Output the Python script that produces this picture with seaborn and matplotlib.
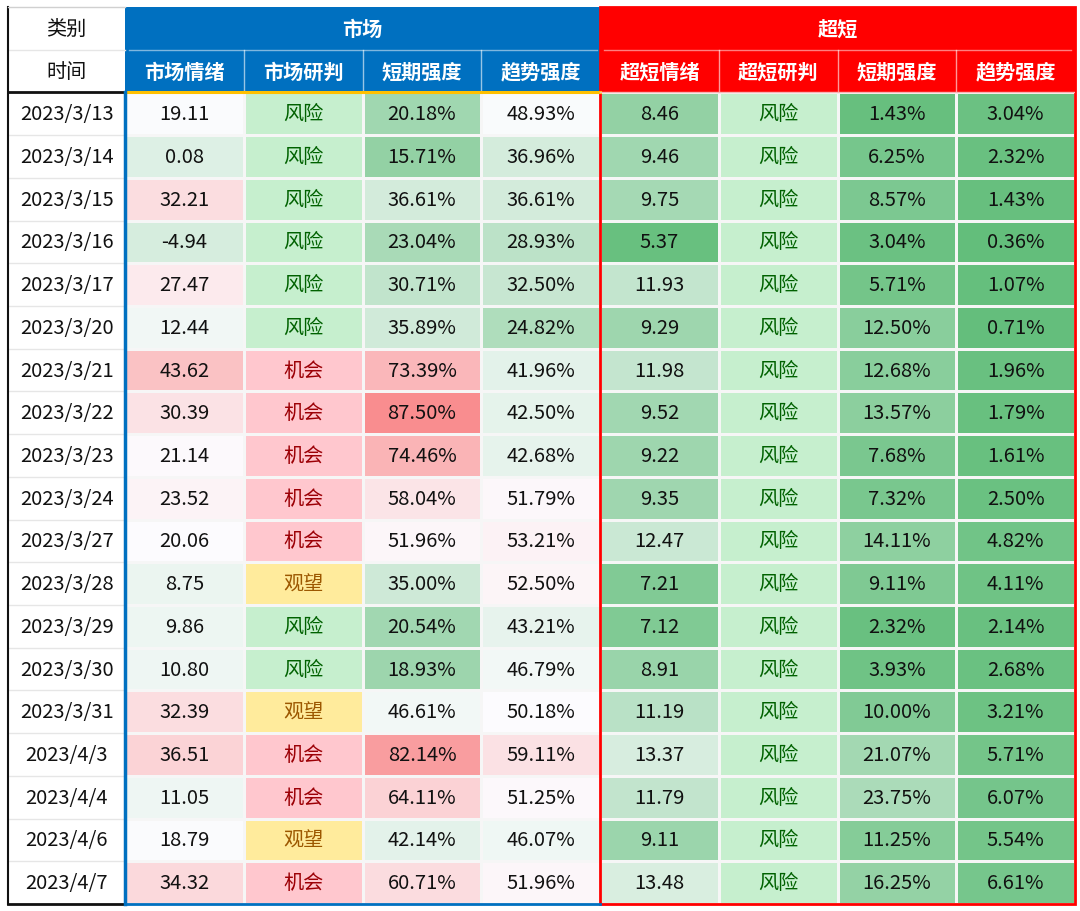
import numpy as np
import pandas as pd
import matplotlib
matplotlib.use('Agg')
import matplotlib.pyplot as plt
from matplotlib.colors import LinearSegmentedColormap, ListedColormap
from matplotlib.patches import Rectangle
import seaborn as sns

dates = ['2023/3/13', '2023/3/14', '2023/3/15', '2023/3/16', '2023/3/17', '2023/3/20',
         '2023/3/21', '2023/3/22', '2023/3/23', '2023/3/24', '2023/3/27', '2023/3/28',
         '2023/3/29', '2023/3/30', '2023/3/31', '2023/4/3', '2023/4/4', '2023/4/6', '2023/4/7']
market_mood = [19.11, 0.08, 32.21, -4.94, 27.47, 12.44, 43.62, 30.39, 21.14, 23.52,
               20.06, 8.75, 9.86, 10.80, 32.39, 36.51, 11.05, 18.79, 34.32]
market_call = ['风险'] * 6 + ['机会'] * 5 + ['观望', '风险', '风险', '观望', '机会', '机会', '观望', '机会']
market_short = [20.18, 15.71, 36.61, 23.04, 30.71, 35.89, 73.39, 87.50, 74.46, 58.04,
                51.96, 35.00, 20.54, 18.93, 46.61, 82.14, 64.11, 42.14, 60.71]
market_trend = [48.93, 36.96, 36.61, 28.93, 32.50, 24.82, 41.96, 42.50, 42.68, 51.79,
                53.21, 52.50, 43.21, 46.79, 50.18, 59.11, 51.25, 46.07, 51.96]
ultra_mood = [8.46, 9.46, 9.75, 5.37, 11.93, 9.29, 11.98, 9.52, 9.22, 9.35,
              12.47, 7.21, 7.12, 8.91, 11.19, 13.37, 11.79, 9.11, 13.48]
ultra_call = ['风险'] * 19
ultra_short = [1.43, 6.25, 8.57, 3.04, 5.71, 12.50, 12.68, 13.57, 7.68, 7.32,
               14.11, 9.11, 2.32, 3.93, 10.00, 21.07, 23.75, 11.25, 16.25]
ultra_trend = [3.04, 2.32, 1.43, 0.36, 1.07, 0.71, 1.96, 1.79, 1.61, 2.50,
               4.82, 4.11, 2.14, 2.68, 3.21, 5.71, 6.07, 5.54, 6.61]

groups = ['市场', '超短']
columns = ['市场情绪', '市场研判', '短期强度', '趋势强度', '超短情绪', '超短研判', '短期强度', '趋势强度']

plt.rcParams['font.family'] = ['Noto Sans CJK SC', 'DejaVu Sans']
FS = 14.5

n = len(dates)
numeric = {0: market_mood, 2: market_short, 3: market_trend,
           4: ultra_mood, 6: ultra_short, 7: ultra_trend}
categorical = {1: market_call, 5: ultra_call}
# colour scale per column: (centre, span below, span above)
scales = {0: (20, 100, 60), 2: (50, 50, 50), 3: (50, 50, 50),
          4: (16, 11, 11), 6: (50, 50, 50), 7: (50, 50, 50)}

norm_vals = np.full((n, 8), np.nan)
labels = np.full((n, 8), '', dtype=object)
for c, vals in numeric.items():
    v = np.array(vals, dtype=float)
    ctr, lo, hi = scales[c]
    norm_vals[:, c] = np.where(v < ctr, (v - ctr) / lo, (v - ctr) / hi)
    fmt = '{:.2f}%' if c in (2, 3, 6, 7) else '{:.2f}'
    labels[:, c] = [fmt.format(x) for x in vals]
for c, vals in categorical.items():
    labels[:, c] = vals

cmap = LinearSegmentedColormap.from_list('gwr', ['#63BE7B', '#FCFCFF', '#F8696B'])

fig = plt.figure(figsize=(10.8, 9.12), dpi=100)
ax = fig.add_axes([8 / 1080, 7 / 912, 1067 / 1080, 897 / 912])

grid_kw = dict(ax=ax, cbar=False, xticklabels=False, yticklabels=False,
               linewidths=0.8, linecolor='#F6F6F6', fmt='')

sns.heatmap(pd.DataFrame(norm_vals), mask=np.isnan(norm_vals), cmap=cmap, vmin=-1, vmax=1,
            annot=labels, annot_kws={'color': '#111111', 'fontsize': FS}, **grid_kw)

cat_styles = {'风险': ('#C6EFCE', '#006100'), '机会': ('#FFC7CE', '#9C0006'), '观望': ('#FFEB9C', '#9C5700')}
for cat, (bg, fg) in cat_styles.items():
    m = np.full((n, 8), np.nan)
    for c, vals in categorical.items():
        m[:, c] = [0.5 if x == cat else np.nan for x in vals]
    if np.all(np.isnan(m)):
        continue
    sns.heatmap(pd.DataFrame(m), mask=np.isnan(m), cmap=ListedColormap([bg]), vmin=0, vmax=1,
                annot=labels, annot_kws={'color': fg, 'fontsize': FS}, **grid_kw)

ax.set_xlim(-0.987, 8)
ax.set_ylim(n, -2)
ax.axis('off')

# date column
for i, d in enumerate(dates):
    ax.text(-0.4935, i + 0.5, d, ha='center', va='center', fontsize=FS, color='#111111')
    if i > 0:
        ax.plot([-0.987, 0], [i, i], color='#E6E6E6', lw=1)
ax.text(-0.4935, -1.5, '类别', ha='center', va='center', fontsize=FS, color='#111111')
ax.text(-0.4935, -0.5, '时间', ha='center', va='center', fontsize=FS, color='#111111')
ax.plot([-0.987, 0], [-1, -1], color='#E6E6E6', lw=1)

# group headers
for g, (x0, col) in enumerate([(0, '#0070C0'), (4, '#FF0000')]):
    ax.add_patch(Rectangle((x0, -2), 4, 2, facecolor=col, edgecolor='none'))
    ax.text(x0 + 2, -1.5, groups[g], ha='center', va='center', fontsize=FS,
            color='white', fontweight='bold')
    ax.plot([x0 + 0.03, x0 + 3.97], [-1, -1], color='white', alpha=0.5, lw=1)
    for k in range(1, 4):
        ax.plot([x0 + k, x0 + k], [-1, 0], color='white', alpha=0.6, lw=1)
for c, name in enumerate(columns):
    ax.text(c + 0.5, -0.5, name, ha='center', va='center', fontsize=FS,
            color='white', fontweight='bold')

# borders
ax.plot([0, 4], [0, 0], color='#FFC000', lw=2.2)
ax.plot([4, 8], [0, 0], color='#F6B4B4', lw=1)
ax.plot([-0.987, 0], [0, 0], color='#111111', lw=2)
ax.plot([-0.987, -0.987], [-2, n], color='#111111', lw=1.5, clip_on=False)
ax.plot([-0.987, 0], [-2, -2], color='#D0D0D0', lw=1, clip_on=False)
ax.plot([-0.987, 0], [n, n], color='#111111', lw=2, clip_on=False)
ax.plot([0, 0], [0, n], color='#0070C0', lw=2.5, clip_on=False)
ax.plot([0, 4], [n, n], color='#0070C0', lw=2, clip_on=False)
ax.add_patch(Rectangle((4, -2), 4, 2 + n, facecolor='none', edgecolor='#FF0000',
                       lw=2, clip_on=False))

fig.savefig('out.png', dpi=100, facecolor='white')
